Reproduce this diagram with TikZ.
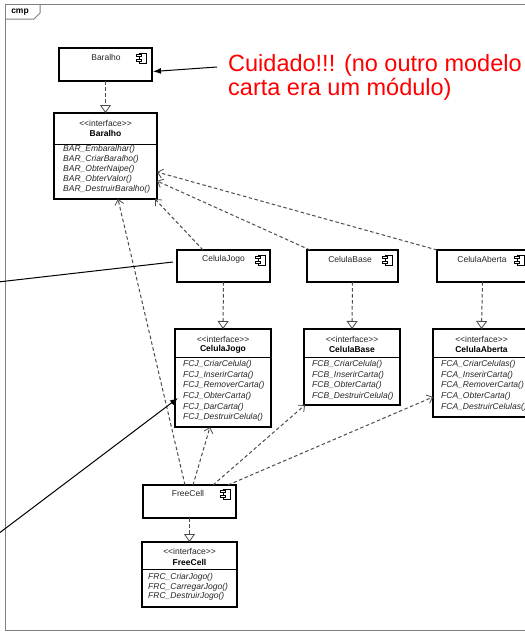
\documentclass[tikz,border=0pt]{standalone}
\usepackage{fontspec}
\setmainfont{Liberation Sans}
\usetikzlibrary{arrows.meta,calc}
\begin{document}
\begin{tikzpicture}[x=1pt,y=-1pt,
  box/.style={draw=black, line width=1.5pt, fill=white, inner sep=0pt, outer sep=0pt},
  txt/.style={font=\fontsize{8.5}{10}\selectfont, inner sep=0pt, text=black!85},
  bold/.style={font=\fontsize{8.5}{10}\selectfont\bfseries, inner sep=0pt},
  meth/.style={font=\fontsize{8.5}{10}\selectfont\itshape, inner sep=0pt, anchor=west, text=black!85},
  sepline/.style={draw=black, line width=0.6pt},
  dep/.style={draw=black!70, dash pattern=on 3.5pt off 2.5pt, line width=1pt, -{Straight Barb[length=5pt,width=9pt,line width=0.8pt]}},
  real/.style={draw=black!70, dash pattern=on 3.5pt off 2.5pt, line width=1pt, -{Triangle[open,length=8pt,width=11pt,fill=white,line width=0.8pt]}},
  annot/.style={draw=black, line width=1pt, -{Latex[length=8pt,width=6pt]}},
  annotline/.style={draw=black, line width=1pt},
  note/.style={font=\fontsize{23.5}{24.5}\selectfont, text=red, inner sep=0pt, anchor=base west},
  compicon/.pic={
    \draw[line width=0.7pt, fill=white] (-3,-5) rectangle (4,5);
    \draw[line width=0.7pt, fill=white] (-5.5,-3.5) rectangle (-1,-1.5);
    \draw[line width=0.7pt, fill=white] (-5.5,1.5) rectangle (-1,3.5);
  }]
\useasboundingbox (0,0) rectangle (525,635);
\fill[white] (0,0) rectangle (525,635);

% frame
\draw[black!50, line width=1pt] (5,4) rectangle (535,630);
\draw[black!50, line width=1pt] (40,4) -- (40,13) -- (34,19) -- (5,19);
\node[bold] (cmp) at (20,12) {cmp};

% components
\node[box, minimum width=93pt, minimum height=33pt] (bc) at (105.5,64.5) {};
\node[txt] (bclab) at (106,57) {Baralho};
\pic at ([xshift=-10pt,yshift=-10pt]bc.north east) {compicon};

\node[box, minimum width=93pt, minimum height=32pt] (cjc) at (223.5,266) {};
\node[txt] (cjclab) at (223.5,259) {CelulaJogo};
\pic at ([xshift=-9pt,yshift=-10pt]cjc.north east) {compicon};

\node[box, minimum width=91pt, minimum height=32pt] (cbc) at (352.5,266) {};
\node[txt] (cbclab) at (350,259) {CelulaBase};
\pic at ([xshift=-10pt,yshift=-10pt]cbc.north east) {compicon};

\node[box, minimum width=91pt, minimum height=32pt] (cac) at (482.5,266) {};
\node[txt] (caclab) at (482,259) {CelulaAberta};
\pic at ([xshift=-8pt,yshift=-10pt]cac.north east) {compicon};

\node[box, minimum width=93pt, minimum height=33pt] (fc) at (189.5,501.5) {};
\node[txt] (fclab) at (188,493) {FreeCell};
\pic at ([xshift=-10pt,yshift=-9pt]fc.north east) {compicon};

% interface Baralho
\node[box, minimum width=103pt, minimum height=86pt] (bi) at (105.5,156) {};
\node[txt] (bist) at (105.5,123.3) {<{}<interface>{}>};
\node[bold] (biname) at (105.5,133.5) {Baralho};
\draw[sepline] (bi.west |- 0,144) -- (bi.east |- 0,144);
\node[meth] (bm1) at (63,149.5) {BAR\_Embaralhar()};
\node[meth] (bm2) at (63,159.5) {BAR\_CriarBaralho()};
\node[meth] (bm3) at (63,169.5) {BAR\_ObterNaipe()};
\node[meth] (bm4) at (63,179.5) {BAR\_ObterValor()};
\node[meth] (bm5) at (63,189.5) {BAR\_DestruirBaralho()};

% interface CelulaJogo
\node[box, minimum width=96pt, minimum height=98pt] (cji) at (223,378) {};
\node[txt] (cjist) at (223,339) {<{}<interface>{}>};
\node[bold] (cjiname) at (223,349.5) {CelulaJogo};
\draw[sepline] (cji.west |- 0,357) -- (cji.east |- 0,357);
\node[meth] (cm1) at (183,364) {FCJ\_CriarCelula()};
\node[meth] (cm2) at (183,374.8) {FCJ\_InserirCarta()};
\node[meth] (cm3) at (183,385.5) {FCJ\_RemoverCarta()};
\node[meth] (cm4) at (183,396.2) {FCJ\_ObterCarta()};
\node[meth] (cm5) at (183,407) {FCJ\_DarCarta()};
\node[meth] (cm6) at (183,417.7) {FCJ\_DestruirCelula()};

% interface CelulaBase
\node[box, minimum width=96pt, minimum height=76pt] (cbi) at (352,367) {};
\node[txt] (cbist) at (352,339) {<{}<interface>{}>};
\node[bold] (cbiname) at (352,349.5) {CelulaBase};
\draw[sepline] (cbi.west |- 0,357) -- (cbi.east |- 0,357);
\node[meth] (bbm1) at (312,364) {FCB\_CriarCelula()};
\node[meth] (bbm2) at (312,374.8) {FCB\_InserirCarta()};
\node[meth] (bbm3) at (312,385.5) {FCB\_ObterCarta()};
\node[meth] (bbm4) at (312,396.2) {FCB\_DestruirCelula()};

% interface CelulaAberta
\node[box, minimum width=97pt, minimum height=88pt] (cai) at (481.5,373) {};
\node[txt] (caist) at (481.5,339) {<{}<interface>{}>};
\node[bold] (cainame) at (481.5,349.5) {CelulaAberta};
\draw[sepline] (cai.west |- 0,357) -- (cai.east |- 0,357);
\node[meth] (am1) at (441,364) {FCA\_CriarCelulas()};
\node[meth] (am2) at (441,374.8) {FCA\_InserirCarta()};
\node[meth] (am3) at (441,385.5) {FCA\_RemoverCarta()};
\node[meth] (am4) at (441,396.2) {FCA\_ObterCarta()};
\node[meth] (am5) at (441,407) {FCA\_DestruirCelulas()};

% interface FreeCell
\node[box, minimum width=95pt, minimum height=65pt] (fi) at (189.5,574.5) {};
\node[txt] (fist) at (189.5,551.5) {<{}<interface>{}>};
\node[bold] (finame) at (189.5,562.5) {FreeCell};
\draw[sepline] (fi.west |- 0,569) -- (fi.east |- 0,569);
\node[meth] (fm1) at (148,577.5) {FRC\_CriarJogo()};
\node[meth] (fm2) at (148,587) {FRC\_CarregarJogo()};
\node[meth] (fm3) at (148,596.5) {FRC\_DestruirJogo()};

% realizations
\draw[real] (bc.south) -- (bi.north);
\draw[real] (cjc.south) -- (cji.north);
\draw[real] (cbc.south) -- (cbi.north);
\draw[real] (cac.south) -- (cai.north);
\draw[real] (fc.south) -- (fi.north);

% dependencies
\draw[dep] ([xshift=26pt]cjc.north west) -- ([xshift=-2pt]bi.south east);
\draw[dep] ([xshift=3pt]cbc.north west) -- ([yshift=18pt]bi.south east);
\draw[dep] (cac.north west) -- ([yshift=27pt]bi.south east);
\draw[dep] ([xshift=42pt]fc.north west) -- ([xshift=-39pt]bi.south east);
\draw[dep] ([xshift=50pt]fc.north west) -- ([xshift=35pt]cji.south west);
\draw[dep] ([xshift=70pt]fc.north west) -- ([xshift=1pt]cbi.south west);
\draw[dep] ([xshift=85pt]fc.north west) -- ([yshift=-68pt]cai.north west);

% notes
\node[note] (note1) at (228,71) {Cuidado!!! (no outro modelo};
\node[note] (note2) at (228,95) {carta era um módulo)};
\coordinate (a1) at (217,67);
\coordinate (a2) at (-2,282);
\coordinate (a3) at (-2,534);
\draw[annot] (a1) -- ([xshift=1pt,yshift=-7pt]bc.east);
\draw[annotline] (a2) -- ([xshift=-4pt,yshift=4pt]cjc.west);
\draw[annot] (a3) -- ([xshift=3pt,yshift=-20pt]cji.west);
\end{tikzpicture}
\end{document}
